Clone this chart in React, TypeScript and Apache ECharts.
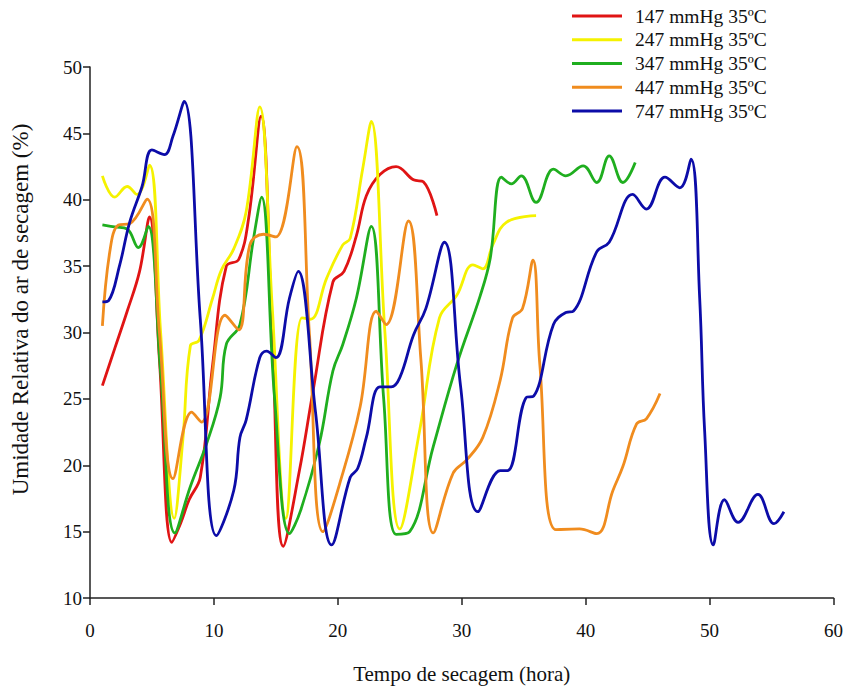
import React, { useEffect, useRef } from "react";
import * as echarts from "echarts";

const seriesNames = [
  "147 mmHg 35ºC",
  "247 mmHg 35ºC",
  "347 mmHg 35ºC",
  "447 mmHg 35ºC",
  "747 mmHg 35ºC",
];

const seriesColors = ["#e01414", "#f5f200", "#1fae1f", "#f08c1e", "#0c0ca8"];

const xTicks = [0, 60, 10];
const yTicks = [10, 50, 5];

const red147: number[][] = [
  [1, 26], [2, 28.8], [3, 31.6], [4, 34.6], [4.8, 38.7], [5.6, 28], [6.6, 14.2], [7.3, 15.6],
  [8, 17.4], [8.9, 19.1], [9.9, 27.6], [11, 35], [12, 35.5], [12.8, 38.6], [13.8, 46.3],
  [14.7, 30], [15.6, 13.9], [16.9, 19.6], [18, 25.6], [19.6, 33.8], [20.5, 34.6], [21.5, 37.3],
  [22.3, 40.3], [23.4, 41.9], [24.7, 42.5], [26.1, 41.5], [26.9, 41.35], [28, 38.8],
];

const yellow247: number[][] = [
  [1, 41.8], [2, 40.2], [3, 41], [3.8, 40.4], [4.8, 42.6], [5.7, 30], [6.8, 16], [7.5, 22],
  [8.1, 29], [8.8, 29.4], [9.9, 32.6], [10.6, 34.7], [11.6, 36.3], [12.6, 39.1], [13.7, 47],
  [14.7, 32], [15.8, 16], [17.1, 31.1], [17.8, 31], [19.1, 34.1], [20.4, 36.6], [21, 37.1],
  [22, 42.3], [22.7, 45.9], [23.8, 30], [25, 15.2], [26.6, 22.6], [28.2, 31.1], [29.6, 32.8],
  [30.9, 35.1], [31.7, 34.8], [32.5, 36.6], [33.6, 38.3], [36, 38.8],
];

const green347: number[][] = [
  [1, 38.1], [2, 37.95], [3, 37.8], [3.9, 36.4], [4.7, 38], [5.7, 27], [6.85, 14.9], [8.1, 18.4],
  [9.4, 21.6], [10.5, 25.1], [11, 29.1], [12.1, 30.6], [13.2, 37.1], [13.85, 40.2], [14.9, 25],
  [16.1, 14.85], [17, 16.6], [18.5, 21.6], [19.6, 27.1], [20.4, 29.1], [21.5, 32.6], [22.7, 38],
  [23.7, 25], [24.7, 14.8], [25.8, 15], [27.7, 21.4], [29.6, 27.6], [31.5, 32.8], [32.3, 35.6],
  [33.2, 41.7], [34, 41.2], [34.8, 41.8], [36, 39.8], [37.4, 42.3], [38.4, 41.8], [39.8, 42.55],
  [40.9, 41.3], [41.9, 43.3], [43, 41.3], [44, 42.8],
];

const orange447: number[][] = [
  [1, 30.5], [1.6, 36.1], [2.3, 38.1], [3.2, 38.2], [4.6, 40.05], [5.6, 30], [6.7, 19], [8.2, 24],
  [9, 23.25], [10.9, 31.3], [12, 30.2], [12.9, 36.6], [14, 37.4], [15, 37.2], [16.7, 44],
  [17.7, 30], [18.8, 15], [20.4, 19.4], [21.8, 24.4], [23.1, 31.6], [23.9, 30.6], [25.7, 38.4],
  [26.7, 28], [27.7, 14.9], [29.3, 19.4], [30.4, 20.4], [31.7, 22.1], [33.1, 26.4], [34.1, 31.1],
  [34.9, 31.8], [35.75, 35.45], [36.3, 27.6], [37.6, 15.15], [39.5, 15.2], [40.9, 14.85],
  [42.2, 18.1], [43, 19.9], [44.1, 23.1], [44.9, 23.5], [46, 25.4],
];

const blue747: number[][] = [
  [1, 32.3], [1.5, 32.4], [2.4, 35.1], [3.2, 38.3], [4.2, 41], [5, 43.75], [6, 43.4], [6.7, 44.8],
  [7.6, 47.4], [8.9, 31], [10.2, 14.7], [11.6, 18.1], [12.1, 22.1], [12.6, 23.4], [13.7, 28.1],
  [14.25, 28.6], [15, 28.1], [16.1, 32.6], [16.8, 34.6], [18.2, 24], [19.5, 14], [21, 19.1],
  [21.6, 19.75], [22.3, 22.1], [23.4, 25.9], [24.3, 25.9], [25, 26.6], [26.1, 29.8], [27.1, 31.8],
  [28.6, 36.8], [29.9, 26], [31.3, 16.5], [33.1, 19.6], [33.7, 19.6], [35.2, 25.1], [35.8, 25.2],
  [37.4, 30.6], [38.4, 31.5], [39, 31.6], [40.9, 36.1], [41.9, 36.8], [43.8, 40.4], [44.9, 39.3],
  [46.4, 41.7], [47.6, 40.9], [48.5, 43.05], [49.2, 32.6], [49.6, 22.6], [50.3, 14], [51.2, 17.4],
  [52.3, 15.7], [53.9, 17.8], [55.2, 15.6], [56, 16.5],
];

const allData = [red147, yellow247, green347, orange447, blue747];

const FONT = "'Liberation Serif', 'DejaVu Serif', serif";

export default function App() {
  const ref = useRef<HTMLDivElement>(null);
  useEffect(() => {
    if (!ref.current) return;
    const chart = echarts.init(ref.current, null, { renderer: "svg" });
    chart.setOption({
      animation: false,
      backgroundColor: "#ffffff",
      textStyle: { fontFamily: FONT },
      legend: {
        orient: "vertical",
        left: 567,
        top: 1,
        icon: "rect",
        itemWidth: 50,
        itemHeight: 3,
        itemGap: 3.75,
        textStyle: { fontFamily: FONT, fontSize: 19.5, color: "#111", lineHeight: 20, padding: [0, 0, 0, 8] },
        data: seriesNames,
      },
      grid: { left: 90, right: 12, top: 67, bottom: 87 },
      xAxis: {
        type: "value",
        min: xTicks[0],
        max: xTicks[1],
        interval: xTicks[2],
        name: "Tempo de secagem (hora)",
        nameLocation: "middle",
        nameGap: 65,
        nameTextStyle: { fontFamily: FONT, fontSize: 21, color: "#111" },
        axisLine: { show: true, lineStyle: { color: "#222", width: 1.5 } },
        axisTick: { show: true, inside: false, length: 7, lineStyle: { color: "#222", width: 1.5 } },
        axisLabel: { fontFamily: FONT, fontSize: 19, color: "#111", margin: 23 },
        splitLine: { show: false },
      },
      yAxis: {
        type: "value",
        min: yTicks[0],
        max: yTicks[1],
        interval: yTicks[2],
        name: "Umidade Relativa do ar de secagem (%)",
        nameLocation: "middle",
        nameGap: 58,
        nameRotate: 90,
        nameTextStyle: { fontFamily: FONT, fontSize: 23, color: "#111", padding: [0, 0, 0, 46] },
        axisLine: { show: true, lineStyle: { color: "#222", width: 1.5 } },
        axisTick: { show: true, inside: false, length: 7, lineStyle: { color: "#222", width: 1.5 } },
        axisLabel: { fontFamily: FONT, fontSize: 19, color: "#111", margin: 8 },
        splitLine: { show: false },
      },
      series: allData.map((d, i) => ({
        name: seriesNames[i],
        type: "line",
        data: d,
        smooth: 0.4,
        showSymbol: false,
        symbol: "none",
        lineStyle: { color: seriesColors[i], width: 2.8 },
        itemStyle: { color: seriesColors[i] },
      })),
    });
    return () => chart.dispose();
  }, []);
  return (
    <div
      ref={ref}
      style={{ position: "absolute", left: 0, top: 0, width: 846, height: 689 }}
    />
  );
}
